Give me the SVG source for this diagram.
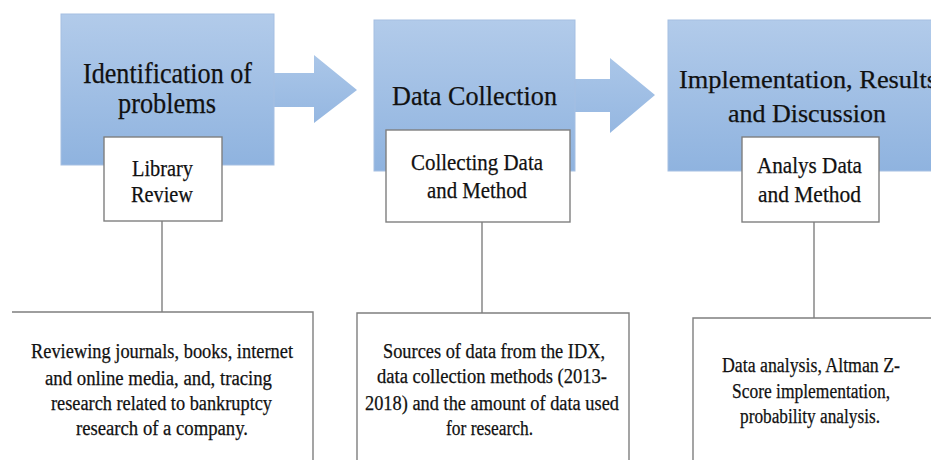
<svg xmlns="http://www.w3.org/2000/svg" width="931" height="460" viewBox="0 0 931 460" font-family="'Liberation Serif', 'DejaVu Serif', serif">
  <defs>
    <linearGradient id="stageFill" x1="0" y1="0" x2="0" y2="1">
      <stop offset="0" stop-color="#b2cbea"/>
      <stop offset="1" stop-color="#8fb3df"/>
    </linearGradient>
    <linearGradient id="arrowFill" x1="0" y1="0" x2="0" y2="1">
      <stop offset="0" stop-color="#aac6e8"/>
      <stop offset="1" stop-color="#95b7e1"/>
    </linearGradient>
  </defs>
  <style>
    text { font-family: 'Liberation Serif', 'DejaVu Serif', serif; fill: #111111; stroke: #111111; stroke-width: 0.25; text-anchor: middle; }
    .stage { fill: url(#stageFill); stroke: #a5bfe2; stroke-width: 1; }
    .arrow { fill: url(#arrowFill); }
    .card { fill: #ffffff; stroke: #7f7f7f; stroke-width: 1.4; }
    .link { stroke: #7f7f7f; stroke-width: 1.4; fill: none; }
    .t1 { font-size: 30px; }
    .t2 { font-size: 28px; }
    .t3 { font-size: 26px; }
    .sub { font-size: 24px; }
    .body { font-size: 20.5px; }
  </style>
  <rect width="931" height="460" fill="#ffffff"/>

  <!-- flow arrows between stages -->
  <g id="flow-arrows">
    <polygon class="arrow" points="274,73 314,73 314,55 357,90 314,123 314,107 274,107"/>
    <polygon class="arrow" points="575,79 610,79 610,58 655,95 610,133 610,112 575,112"/>
  </g>

  <!-- stage 1 -->
  <g id="stage-identification">
    <rect class="stage" x="61" y="14" width="213" height="151"/>
    <text class="t1" x="167.5" y="83" textLength="169" lengthAdjust="spacingAndGlyphs">Identification of</text>
    <text class="t1" x="167" y="113" textLength="98" lengthAdjust="spacingAndGlyphs">problems</text>
  </g>
  <!-- stage 2 -->
  <g id="stage-collection">
    <rect class="stage" x="374" y="20" width="201" height="151"/>
    <text class="t2" x="474.5" y="105" textLength="165" lengthAdjust="spacingAndGlyphs">Data Collection</text>
  </g>
  <!-- stage 3 -->
  <g id="stage-implementation">
    <rect class="stage" x="668" y="20" width="280" height="151"/>
    <text class="t3" x="679" y="88" style="text-anchor:start" textLength="258" lengthAdjust="spacingAndGlyphs">Implementation, Results</text>
    <text class="t3" x="807" y="122" textLength="158" lengthAdjust="spacingAndGlyphs">and Discussion</text>
  </g>

  <!-- connectors from sub-steps to descriptions -->
  <g id="connectors">
    <line class="link" x1="162" y1="221" x2="162" y2="312"/>
    <line class="link" x1="482" y1="222" x2="482" y2="313"/>
    <line class="link" x1="814" y1="222" x2="814" y2="318"/>
  </g>

  <!-- sub-step cards -->
  <g id="card-library">
    <rect class="card" x="104" y="137" width="118" height="84"/>
    <text class="sub" x="162.5" y="176" textLength="61" lengthAdjust="spacingAndGlyphs">Library</text>
    <text class="sub" x="162" y="202" textLength="62" lengthAdjust="spacingAndGlyphs">Review</text>
  </g>
  <g id="card-collecting">
    <rect class="card" x="386" y="130" width="184" height="92"/>
    <text class="sub" x="477" y="170" textLength="132" lengthAdjust="spacingAndGlyphs">Collecting Data</text>
    <text class="sub" x="477" y="198" textLength="100" lengthAdjust="spacingAndGlyphs">and Method</text>
  </g>
  <g id="card-analys">
    <rect class="card" x="742" y="137" width="137" height="85"/>
    <text class="sub" x="809.5" y="173" textLength="105" lengthAdjust="spacingAndGlyphs">Analys Data</text>
    <text class="sub" x="809.5" y="202" textLength="103" lengthAdjust="spacingAndGlyphs">and Method</text>
  </g>

  <!-- description panels (run past the lower edge) -->
  <g id="desc-library">
    <path class="link" d="M12 312 H313 V462"/>
    <text class="body" x="162" y="358" textLength="262" lengthAdjust="spacingAndGlyphs">Reviewing journals, books, internet</text>
    <text class="body" x="158.5" y="385" textLength="227" lengthAdjust="spacingAndGlyphs">and online media, and, tracing</text>
    <text class="body" x="161.5" y="410" textLength="221" lengthAdjust="spacingAndGlyphs">research related to bankruptcy</text>
    <text class="body" x="162" y="435" textLength="172" lengthAdjust="spacingAndGlyphs">research of a company.</text>
  </g>
  <g id="desc-collecting">
    <path class="link" d="M357 462 V313 H629 V462"/>
    <text class="body" x="494" y="358" textLength="222" lengthAdjust="spacingAndGlyphs">Sources of data from the IDX,</text>
    <text class="body" x="492" y="383" textLength="230" lengthAdjust="spacingAndGlyphs">data collection methods (2013-</text>
    <text class="body" x="492" y="410" textLength="254" lengthAdjust="spacingAndGlyphs">2018) and the amount of data used</text>
    <text class="body" x="489.5" y="435" textLength="87" lengthAdjust="spacingAndGlyphs">for research.</text>
  </g>
  <g id="desc-analys">
    <path class="link" d="M693 462 V318 H933"/>
    <text class="body" x="811" y="372" textLength="178" lengthAdjust="spacingAndGlyphs">Data analysis, Altman Z-</text>
    <text class="body" x="811" y="398" textLength="158" lengthAdjust="spacingAndGlyphs">Score implementation,</text>
    <text class="body" x="810" y="423" textLength="140" lengthAdjust="spacingAndGlyphs">probability analysis.</text>
  </g>
</svg>
